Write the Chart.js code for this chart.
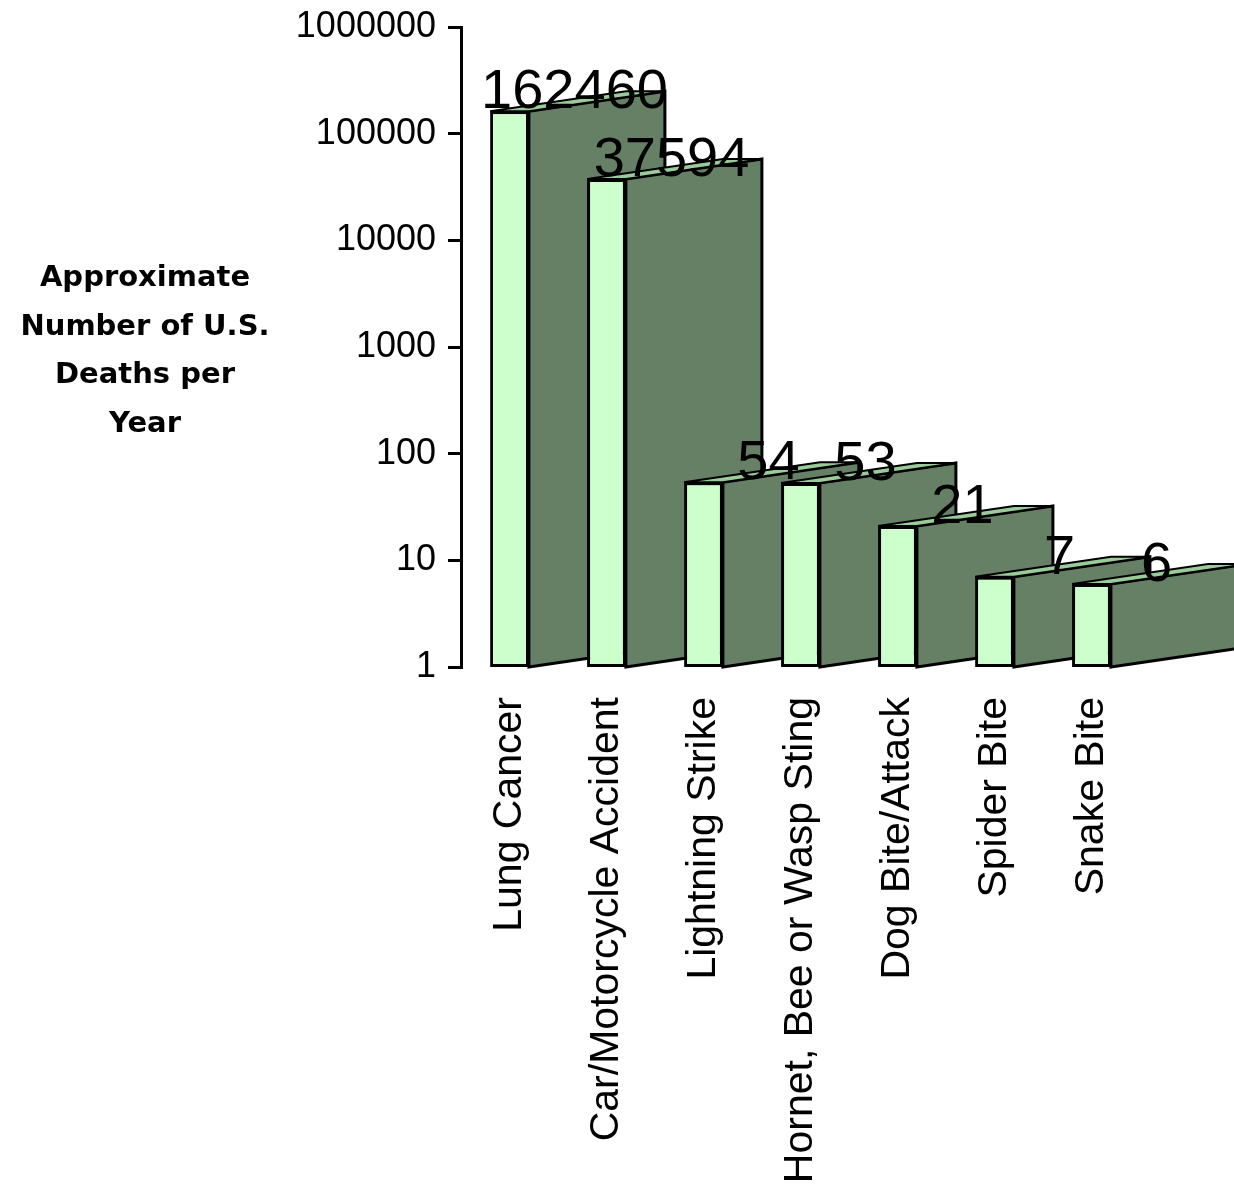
<!DOCTYPE html>
<html>
<head>
<meta charset="utf-8">
<script src="https://cdn.jsdelivr.net/npm/chart.js@4/dist/chart.umd.min.js"></script>
<style>
  body { margin: 0; background: #ffffff; }
  #wrap { width: 1234px; height: 1196px; }
</style>
</head>
<body>
<div id="wrap"><canvas id="deathChart" width="1234" height="1196"></canvas></div>
<script>
///////////////////////////////////////////////////////////////////////////
// DATA
///////////////////////////////////////////////////////////////////////////
var categories = [
    'Lung Cancer',
    'Car/Motorcycle Accident',
    'Lightning Strike',
    'Hornet, Bee or Wasp Sting',
    'Dog Bite/Attack',
    'Spider Bite',
    'Snake Bite'
];
var deaths = [162460, 37594, 54, 53, 21, 7, 6];
var yTicks = [1, 10, 100, 1000, 10000, 100000, 1000000];
var titleLines = ['Approximate', 'Number of U.S.', 'Deaths per', 'Year'];

// 3d look of the old spreadsheet chart
var DEPTH_X = 136;
var DEPTH_Y = -20;
var FRONT = '#ccffcc';
var SIDE = '#668066';
var TOP = '#99cc99';

///////////////////////////////////////////////////////////////////////////
// PLUGIN: draws the side and top faces behind the front of each bar
///////////////////////////////////////////////////////////////////////////
var depthPlugin = {
    id: 'depth',
    beforeDatasetsDraw: function(chart) {
        var ctx = chart.ctx;
        var meta = chart.getDatasetMeta(0);
        ctx.save();
        ctx.lineWidth = 3;
        ctx.strokeStyle = '#000';
        ctx.lineJoin = 'miter';
        meta.data.forEach(function(bar) {
            var p = bar.getProps(['x', 'y', 'base', 'width'], true);
            var l = p.x - p.width / 2;
            var r = p.x + p.width / 2;
            // side face
            ctx.beginPath();
            ctx.moveTo(r, p.y);
            ctx.lineTo(r + DEPTH_X, p.y + DEPTH_Y);
            ctx.lineTo(r + DEPTH_X, p.base + DEPTH_Y);
            ctx.lineTo(r, p.base);
            ctx.closePath();
            ctx.fillStyle = SIDE;
            ctx.fill();
            ctx.stroke();
            // top face (thin sliver)
            ctx.beginPath();
            ctx.moveTo(l, p.y);
            ctx.lineTo(l + DEPTH_X, p.y + DEPTH_Y);
            ctx.lineTo(r + DEPTH_X, p.y + DEPTH_Y);
            ctx.lineTo(r, p.y);
            ctx.closePath();
            ctx.fillStyle = TOP;
            ctx.fill();
            ctx.lineWidth = 2;
            ctx.stroke();
            ctx.lineWidth = 3;
        });
        ctx.restore();
    },
    afterDatasetsDraw: function(chart) {
        var ctx = chart.ctx;
        var meta = chart.getDatasetMeta(0);
        ctx.save();
        ctx.fillStyle = '#000';
        ctx.font = '56px "Liberation Sans", Arial, sans-serif';
        ctx.textAlign = 'center';
        ctx.textBaseline = 'alphabetic';
        meta.data.forEach(function(bar, i) {
            ctx.fillText(String(deaths[i]), bar.x + 65, bar.y - 3);
        });
        ctx.restore();
    },
    afterDraw: function(chart) {
        // horizontal, multi-line axis title at the left
        var ctx = chart.ctx;
        ctx.save();
        ctx.fillStyle = '#000';
        ctx.font = 'bold 29px "DejaVu Sans", sans-serif';
        ctx.textAlign = 'center';
        ctx.textBaseline = 'alphabetic';
        titleLines.forEach(function(line, i) {
            ctx.fillText(line, 145, 286 + i * 48.5);
        });
        ctx.restore();
    }
};

///////////////////////////////////////////////////////////////////////////
// CHART
///////////////////////////////////////////////////////////////////////////
function plotDeathChart(canvasID) {
    var ctx = document.getElementById(canvasID).getContext('2d');
    var chart = new Chart(ctx, {
        type: 'bar',
        data: {
            labels: categories,
            datasets: [{
                data: deaths,
                backgroundColor: FRONT,
                borderColor: '#000',
                borderWidth: 3,
                borderSkipped: false,
                categoryPercentage: 1,
                barPercentage: 0.4
            }]
        },
        options: {
            responsive: false,
            animation: false,
            layout: { padding: { top: 27, right: 94, left: 0, bottom: 0 } },
            plugins: {
                legend: { display: false },
                tooltip: { enabled: false }
            },
            scales: {
                x: {
                    grid: { display: false, drawTicks: false },
                    border: { display: false },
                    ticks: {
                        color: '#000',
                        font: { family: '"Liberation Sans", Arial, sans-serif', size: 41 },
                        minRotation: 90,
                        maxRotation: 90,
                        autoSkip: false,
                        padding: 30
                    },
                    afterFit: function(scale) {
                        scale.height = 529;
                        scale.paddingLeft = 0;
                        scale.paddingRight = 0;
                    }
                },
                y: {
                    type: 'logarithmic',
                    min: 1,
                    max: 1000000,
                    grid: {
                        drawOnChartArea: false,
                        drawTicks: true,
                        tickLength: 13,
                        color: '#000',
                        lineWidth: 3
                    },
                    border: { display: true, color: '#000', width: 3 },
                    ticks: {
                        color: '#000',
                        font: { family: '"Liberation Sans", Arial, sans-serif', size: 36 },
                        padding: 12,
                        callback: function(value) { return String(value); }
                    },
                    afterBuildTicks: function(scale) {
                        scale.ticks = yTicks.map(function(v) { return { value: v }; });
                    },
                    afterFit: function(scale) {
                        scale.width = 461;
                        scale.paddingTop = 0;
                        scale.paddingBottom = 0;
                    }
                }
            }
        },
        plugins: [depthPlugin]
    });
    return chart;
}

plotDeathChart('deathChart');
</script>
</body>
</html>
